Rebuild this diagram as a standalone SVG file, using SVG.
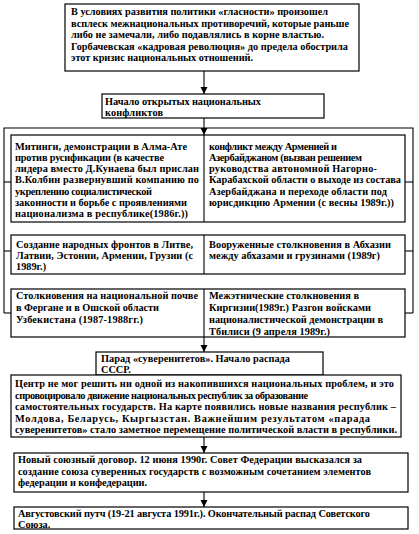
<svg xmlns="http://www.w3.org/2000/svg" width="419" height="534" viewBox="0 0 419 534">
<style>
.box{fill:#fff;stroke:#000;stroke-width:1.2}
.ln{fill:none;stroke:#000;stroke-width:1.1}
.t{font-family:"Liberation Serif","Times New Roman",serif;font-weight:bold;font-size:10.3px;fill:#000}
</style>
<defs>
<marker id="ah" markerUnits="userSpaceOnUse" markerWidth="8" markerHeight="8" refX="7" refY="3.5" orient="auto">
<path d="M0,0 L7,3.5 L0,7 z" fill="#000"/>
</marker>
</defs>
<rect width="419" height="534" fill="#fff"/>
<g id="connectors">
<line class="ln" x1="204" y1="71" x2="204" y2="94" marker-end="url(#ah)"/>
<line class="ln" x1="204" y1="118" x2="204" y2="135" marker-end="url(#ah)"/>
<polyline class="ln" points="4,313 4,128 413,128 413,313"/>
<line class="ln" x1="4" y1="182" x2="11" y2="182"/>
<line class="ln" x1="405" y1="182" x2="413" y2="182"/>
<line class="ln" x1="4" y1="251" x2="11" y2="251"/>
<line class="ln" x1="405" y1="251" x2="413" y2="251"/>
<line class="ln" x1="4" y1="313" x2="11" y2="313"/>
<line class="ln" x1="405" y1="313" x2="413" y2="313"/>
<line class="ln" x1="204" y1="337" x2="204" y2="352" marker-end="url(#ah)"/>
<line class="ln" x1="204" y1="437" x2="204" y2="453" marker-end="url(#ah)"/>
<line class="ln" x1="204" y1="492" x2="204" y2="507" marker-end="url(#ah)"/>
</g>
<g id="n1">
<rect class="box" x="65" y="4" width="294" height="67"/>
<text class="t" x="71" y="15" textLength="257">В условиях развития политики «гласности» произошел</text>
<text class="t" x="71" y="26.5" textLength="278">всплеск межнациональных противоречий, которые раньше</text>
<text class="t" x="71" y="38" textLength="253">либо не замечали, либо подавлялись в корне властью.</text>
<text class="t" x="71" y="49.5" textLength="277">Горбачевская «кадровая революция» до предела обострила</text>
<text class="t" x="71" y="61" textLength="182">этот кризис национальных отношений.</text>
</g>
<g id="n2">
<rect class="box" x="102" y="94" width="222" height="24"/>
<text class="t" x="105" y="104.5" textLength="156">Начало открытых национальных</text>
<text class="t" x="105" y="115.5" textLength="58">конфликтов</text>
</g>
<g id="row1">
<rect class="box" x="11" y="135" width="394" height="87"/>
<line class="ln" x1="204" y1="135" x2="204" y2="222"/>
<g id="n3">
<text class="t" x="15" y="150" textLength="172">Митинги, демонстрации в Алма-Ате</text>
<text class="t" x="15" y="161" textLength="149">против русификации (в качестве</text>
<text class="t" x="15" y="172" textLength="184">лидера вместо Д.Кунаева был прислан</text>
<text class="t" x="15" y="183" textLength="184">В.Колбин развернувший компанию по</text>
<text class="t" x="15" y="194.5" textLength="137">укреплению социалистической</text>
<text class="t" x="15" y="205.5" textLength="172">законности и борьбе с проявлениями</text>
<text class="t" x="15" y="216.5" textLength="173">национализма в республике(1986г.))</text>
</g>
<g id="n4">
<text class="t" x="209" y="150" textLength="128">конфликт между Арменией и</text>
<text class="t" x="209" y="161" textLength="153">Азербайджаном (вызван решением</text>
<text class="t" x="209" y="172" textLength="168">руководства автономной Нагорно-</text>
<text class="t" x="209" y="183" textLength="192">Карабахской области о выходе из состава</text>
<text class="t" x="209" y="194.5" textLength="178">Азербайджана и переходе области под</text>
<text class="t" x="209" y="205.5" textLength="185">юрисдикцию Армении (с весны 1989г.))</text>
</g>
</g>
<g id="row2">
<rect class="box" x="11" y="235" width="394" height="39"/>
<line class="ln" x1="204" y1="235" x2="204" y2="274"/>
<g id="n5">
<text class="t" x="16" y="247.5" textLength="177">Создание народных фронтов в Литве,</text>
<text class="t" x="16" y="258.5" textLength="177">Латвии, Эстонии, Армении, Грузии (с</text>
<text class="t" x="16" y="270">1989г.)</text>
</g>
<g id="n6">
<text class="t" x="209" y="247.5" textLength="182">Вооруженные столкновения в Абхазии</text>
<text class="t" x="209" y="258.5" textLength="171">между абхазами и грузинами (1989г)</text>
</g>
</g>
<g id="row3">
<rect class="box" x="11" y="289" width="394" height="48"/>
<line class="ln" x1="204" y1="289" x2="204" y2="337"/>
<g id="n7">
<text class="t" x="16" y="299" textLength="182">Столкновения на национальной почве</text>
<text class="t" x="16" y="311" textLength="143">в Фергане и в Ошской области</text>
<text class="t" x="16" y="323" textLength="127">Узбекистана   (1987-1988гг.)</text>
</g>
<g id="n8">
<text class="t" x="209" y="299" textLength="150">Межэтнические столкновения в</text>
<text class="t" x="209" y="311" textLength="162">Киргизии(1989г.) Разгон войсками</text>
<text class="t" x="209" y="323" textLength="174">националистической демонстрации в</text>
<text class="t" x="209" y="335" textLength="121">Тбилиси (9 апреля 1989г.)</text>
</g>
</g>
<g id="n9">
<rect class="box" x="96" y="352" width="227" height="23"/>
<text class="t" x="101" y="361.5" textLength="189">Парад «суверенитетов».  Начало распада</text>
<text class="t" x="101" y="373">СССР.</text>
</g>
<g id="n10">
<rect class="box" x="11" y="375" width="390" height="62"/>
<text class="t" x="15" y="387" textLength="379">Центр не мог решить ни одной из накопившихся национальных проблем, и это</text>
<text class="t" x="15" y="398.5" textLength="293">спровоцировало движение национальных республик за образование</text>
<text class="t" x="15" y="410" textLength="381">самостоятельных государств. На карте появились новые названия республик –</text>
<text class="t" x="15" y="421.5" textLength="355">Молдова, Беларусь, Кыргызстан. Важнейшим результатом «парада</text>
<text class="t" x="15" y="433" textLength="382">суверенитетов» стало заметное перемещение политической власти в республики.</text>
</g>
<g id="n11">
<rect class="box" x="14" y="453" width="394" height="39"/>
<text class="t" x="18" y="463" textLength="344">Новый союзный договор. 12 июня 1990г. Совет Федерации высказался за</text>
<text class="t" x="18" y="474.5" textLength="353">создание союза суверенных государств с возможным сочетанием элементов</text>
<text class="t" x="18" y="486" textLength="129">федерации и конфедерации.</text>
</g>
<g id="n12">
<rect class="box" x="14" y="507" width="394" height="22"/>
<text class="t" x="18" y="516.5" textLength="352">Августовский путч (19-21 августа 1991г.). Окончательный распад Советского</text>
<text class="t" x="18" y="527.5">Союза.</text>
</g>
</svg>
